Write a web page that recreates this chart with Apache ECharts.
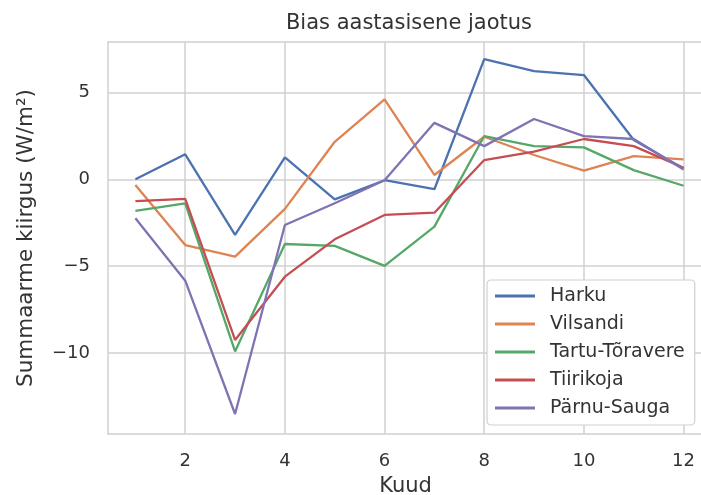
<!DOCTYPE html>
<html>
<head>
<meta charset="utf-8">
<script src="https://cdn.jsdelivr.net/npm/echarts@6/dist/echarts.min.js"></script>
<style>html,body{margin:0;padding:0;background:#fff;overflow:hidden;}#c{width:701px;height:495px;}</style>
</head>
<body>
<div id="c"></div>
<script>
const months = [1,2,3,4,5,6,7,8,9,10,11,12];
const xTicks = [2,4,6,8,10,12];
const yTicks = [-10,-5,0,5];
const harku = [0.0, 1.44, -3.2, 1.26, -1.15, -0.05, -0.57, 6.91, 6.22, 6.0, 2.26, 0.63];
const vilsandi = [-0.33, -3.78, -4.45, -1.7, 2.16, 4.6, 0.25, 2.45, 1.4, 0.5, 1.34, 1.15];
const tartu = [-1.82, -1.38, -9.9, -3.72, -3.83, -4.98, -2.72, 2.49, 1.91, 1.84, 0.53, -0.37];
const tiirikoja = [-1.25, -1.13, -9.24, -5.6, -3.45, -2.05, -1.92, 1.11, 1.59, 2.32, 1.91, 0.67];
const parnu = [-2.24, -5.83, -13.5, -2.63, -1.38, -0.05, 3.25, 1.91, 3.47, 2.49, 2.32, 0.57];
const names = ['Harku','Vilsandi','Tartu-Tõravere','Tiirikoja','Pärnu-Sauga'];
const colors = ['#4C72B0','#DD8452','#55A868','#C44E52','#8172B3'];
const seriesData = [harku, vilsandi, tartu, tiirikoja, parnu];

const txt = '#333333';
const gridCol = '#d0d0d0';
const chart = echarts.init(document.getElementById('c'), null, {renderer:'canvas'});
chart.setOption({
  animation: false,
  backgroundColor: '#ffffff',
  title: {
    text: 'Bias aastasisene jaotus',
    left: 404, top: 8, textAlign: 'center',
    textStyle: {fontFamily: 'DejaVu Sans', fontSize: 21, fontWeight: 'normal', color: txt}
  },
  grid: {left: 108, right: -2, top: 42, bottom: 61, outerBoundsMode: 'none', containLabel: false, show: false},
  legend: {
    orient: 'vertical', left: 487, top: 280,
    data: names,
    icon: 'rect', itemWidth: 40, itemHeight: 3, itemGap: 8,
    padding: [6, 10, 7, 8],
    backgroundColor: '#ffffff', borderColor: gridCol, borderWidth: 1.2, borderRadius: 4,
    textStyle: {fontFamily: 'DejaVu Sans', fontSize: 19, color: txt, lineHeight: 20, padding: [0,0,0,10]}
  },
  xAxis: [{
    type: 'value', min: 0.45, max: 12.39,
    name: 'Kuud', nameLocation: 'middle', nameGap: 42,
    nameTextStyle: {fontFamily: 'DejaVu Sans', fontSize: 21, color: txt},
    axisLine: {show: true, onZero: false, lineStyle: {color: gridCol, width: 1.5}},
    axisTick: {show: false, customValues: xTicks},
    axisLabel: {customValues: xTicks, margin: 18, fontFamily: 'DejaVu Sans', fontSize: 18, color: txt},
    splitLine: {show: true, lineStyle: {color: gridCol, width: 1.5}}
  }, {
    type: 'value', position: 'top', min: 0.45, max: 12.39,
    axisLine: {show: true, onZero: false, lineStyle: {color: gridCol, width: 1.5}},
    axisTick: {show: false}, axisLabel: {show: false}, splitLine: {show: false}
  }],
  yAxis: {
    type: 'value', min: -14.65, max: 7.9,
    name: 'Summaarme kiirgus (W/m²)', nameLocation: 'middle', nameGap: 71,
    nameTextStyle: {fontFamily: 'DejaVu Sans', fontSize: 21.5, color: txt},
    axisLine: {show: true, onZero: false, lineStyle: {color: gridCol, width: 1.5}},
    axisTick: {show: false, customValues: yTicks},
    axisLabel: {customValues: yTicks, margin: 18, fontFamily: 'DejaVu Sans', fontSize: 18, color: txt,
      formatter: v => v < 0 ? '\u2212' + Math.abs(v) : String(v)},
    splitLine: {show: true, lineStyle: {color: gridCol, width: 1.5}}
  },
  series: names.map((n, i) => ({
    name: n, type: 'line', showSymbol: false, symbol: 'none', xAxisIndex: 0,
    data: months.map((m, j) => [m, seriesData[i][j]]),
    lineStyle: {color: colors[i], width: 2.3},
    itemStyle: {color: colors[i]}
  }))
});
</script>
</body>
</html>
